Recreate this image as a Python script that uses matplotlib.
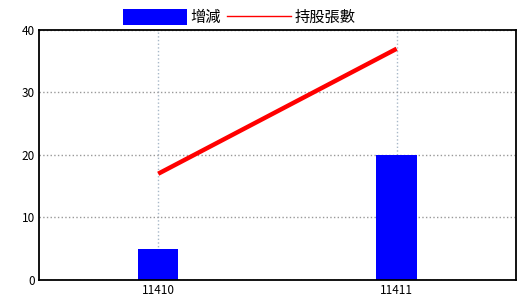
import matplotlib
matplotlib.use('Agg')
import matplotlib.pyplot as plt
from matplotlib.patches import Patch
from matplotlib.lines import Line2D

plt.rcParams['font.family'] = ['Noto Sans CJK TC', 'DejaVu Sans']

# Data
categories = ['11410', '11411']
change = [5, 20]
holdings = [17, 37]

fig = plt.figure(figsize=(5.2, 3.0), dpi=100)
ax = fig.add_axes([0.075, 0.0667, 0.917, 0.8333])

x = range(len(categories))
ax.bar(x, change, width=0.17, color='#0000ff', zorder=2)
ax.plot(x, holdings, color='#ff0000', linewidth=3.2, zorder=3, solid_capstyle='butt')

ax.set_xlim(-0.5, 1.5)
ax.set_ylim(0, 40)
ax.set_yticks([0, 10, 20, 30, 40])
ax.set_xticks(list(x))
ax.set_xticklabels(categories)
ax.tick_params(length=0, labelsize=8.5, pad=3)
ax.grid(axis='y', linestyle=':', color='#999999', linewidth=1)
ax.grid(axis='x', linestyle=':', color='#a8b8c8', linewidth=1)
ax.set_axisbelow(True)
for s in ax.spines.values():
    s.set_linewidth(1.3)

handles = [Patch(facecolor='#0000ff', edgecolor='none'),
           Line2D([], [], color='#ff0000', linewidth=1)]
fig.legend(handles, ['增減', '持股張數'], loc='upper center', bbox_to_anchor=(0.46, 1.015),
           ncol=2, frameon=False, fontsize=11, handlelength=4.2, handleheight=1.2,
           handletextpad=0.2, columnspacing=0.4)

fig.savefig('out.png', dpi=100)
